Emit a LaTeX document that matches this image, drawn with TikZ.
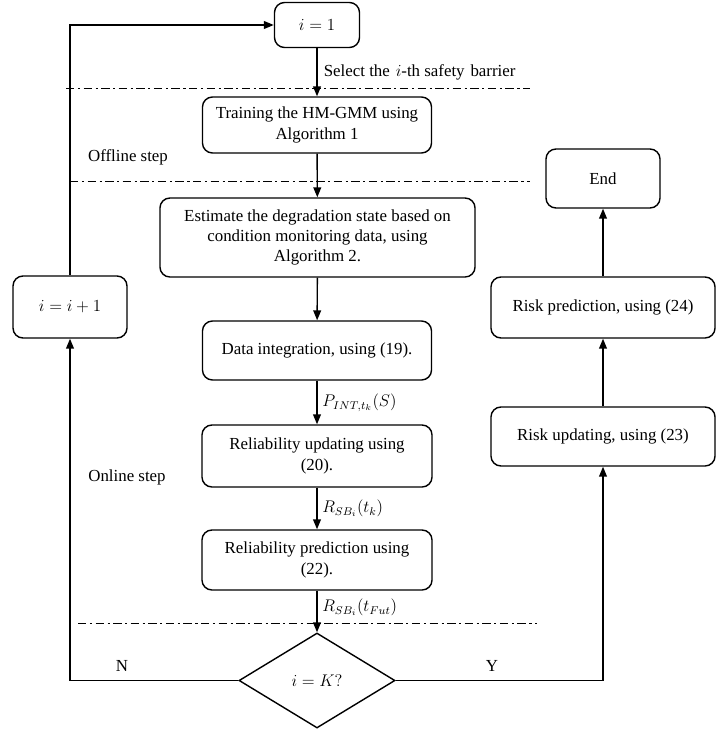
\documentclass[tikz,border=0pt]{standalone}
\usepackage{amsmath}
\usepackage{fontspec}
\setmainfont{Liberation Serif}
\usetikzlibrary{arrows.meta,shapes.geometric}

\begin{document}
\begin{tikzpicture}[x=0.025cm,y=-0.025cm]
    \tikzstyle{every node}=[font=\fontsize{12}{14.5}\selectfont]
    \tikzstyle{box}=[draw, line width=1pt, rounded corners=0.25cm, align=center, inner sep=2pt]
    \tikzstyle{flow}=[-{Triangle[length=7pt,width=5.5pt]}, line width=1pt]
    \tikzstyle{sep}=[line width=0.6pt, dash pattern=on 6pt off 2.5pt on 1.5pt off 2.5pt]
    \useasboundingbox (0,0) rectangle (717,730);
    % draw boxes
    \node[box, minimum width=2.125cm, minimum height=1.125cm] (one) at (317,25) {$i=1$};
    \node[box, minimum width=5.725cm, minimum height=1.4cm] (train) at (317,125) {Training the HM-GMM using\\Algorithm 1};
    \node[box, minimum width=7.875cm, minimum height=1.975cm] (est) at (317.5,237.5) {Estimate the degradation state based on\\condition monitoring data, using\\Algorithm 2.};
    \node[box, minimum width=5.725cm, minimum height=1.475cm] (data) at (317,350.5) {Data integration, using (19).};
    \node[box, minimum width=5.75cm, minimum height=1.55cm] (relup) at (317,456) {Reliability updating using\\(20).};
    \node[box, minimum width=5.75cm, minimum height=1.5cm] (relpred) at (317,560) {Reliability prediction using\\(22).};
    \node[draw, diamond, line width=1pt, inner sep=0pt, aspect=1.64, minimum width=3.9cm, minimum height=2.375cm] (dec) at (317,680.5) {$i=K?$};
    \node[box, minimum width=2.85cm, minimum height=1.55cm] (inc) at (70,307) {$i=i+1$};
    \node[box, minimum width=2.85cm, minimum height=1.475cm] (end) at (603,178.5) {End};
    \node[box, minimum width=5.6cm, minimum height=1.525cm] (riskpred) at (603,307.5) {Risk prediction, using (24)};
    \node[box, minimum width=5.6cm, minimum height=1.475cm] (riskup) at (603,436.5) {Risk updating, using (23)};
    % draw step separators
    \draw[sep] (66,88) -- (530,88);
    \draw[sep] (70,181) -- (530,181);
    \draw[sep] (78,623) -- (537,623);
    % draw arrows
    \draw[flow] (one) -- node[right, xshift=1pt] (lsel) {Select the \hspace{0.1em}$i$-th safety \hspace{0.1em}barrier} (train);
    \draw[flow] (train) -- (est);
    \draw[flow] (est) -- (data);
    \draw[flow] (data) -- node[right] (lp) {$P_{INT,t_k}(S)$} (relup);
    \draw[flow] (relup) -- node[right] (lr) {$R_{SB_i}(t_k)$} (relpred);
    \draw[flow] (relpred) -- node[right, yshift=3pt] (lrf) {$R_{SB_i}(t_{Fut})$} (dec);
    \draw[flow] (dec.west) -| (inc.south);
    \draw[flow] (inc.north) |- (one.west);
    \draw[flow] (dec.east) -| (riskup.south);
    \draw[flow] (riskup) -- (riskpred);
    \draw[flow] (riskpred) -- (end);
    % draw labels
    \node (offline) at (128,157) {Offline step};
    \node (online) at (127,477) {Online step};
    \node (no) at (122,666) {N};
    \node (yes) at (492,666) {Y};
\end{tikzpicture}
\end{document}
